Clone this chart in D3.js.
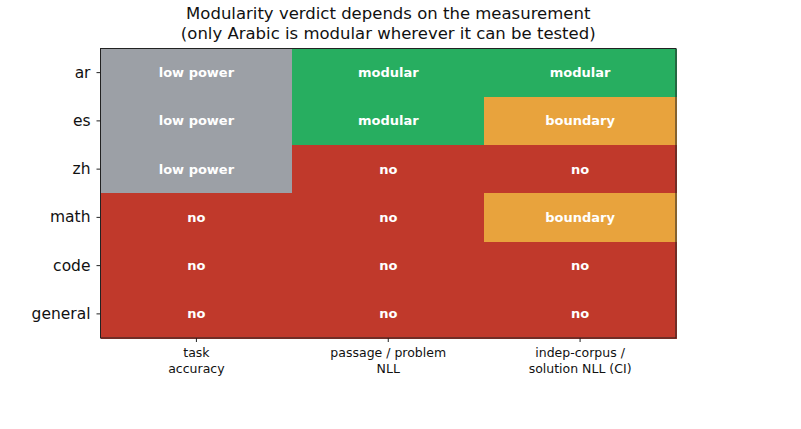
<!DOCTYPE html>
<html>
<head>
<meta charset="utf-8">
<script src="https://cdn.jsdelivr.net/npm/d3@7"></script>
<style>
  html, body { margin: 0; padding: 0; background: #fff; }
  svg { display: block; font-family: "DejaVu Sans", sans-serif; }
</style>
</head>
<body>
<svg id="chart" width="801" height="429"></svg>
<script>
const rows = ["ar", "es", "zh", "math", "code", "general"];
const columns = ["task\naccuracy", "passage / problem\nNLL", "indep-corpus /\nsolution NLL (CI)"];
const verdictTask = ["low power", "low power", "low power", "no", "no", "no"];
const verdictPassage = ["modular", "modular", "no", "no", "no", "no"];
const verdictIndep = ["modular", "boundary", "no", "boundary", "no", "no"];
const verdictKinds = ["modular", "boundary", "no", "low power"];
const verdictColors = ["#27ae60", "#e8a33d", "#c0392b", "#9ca0a6"];
const titleLines = ["Modularity verdict depends on the measurement", "(only Arabic is modular wherever it can be tested)"];

const allVerdicts = [verdictTask, verdictPassage, verdictIndep];
const cells = [];
rows.forEach((r, i) => columns.forEach((c, j) => cells.push({ row: r, col: c, v: allVerdicts[j][i] })));

const svg = d3.select("#chart");
const margin = { left: 100.5, right: 125, top: 48.5, bottom: 91 };
const W = 801, H = 429;

const x = d3.scaleBand().domain(columns).range([margin.left, W - margin.right]);
const y = d3.scaleBand().domain(rows).range([margin.top, H - margin.bottom]);
const color = d3.scaleOrdinal().domain(verdictKinds).range(verdictColors);

svg.append("g").attr("shape-rendering", "crispEdges").selectAll("rect").data(cells).join("rect")
  .attr("x", d => x(d.col)).attr("y", d => y(d.row))
  .attr("width", x.bandwidth() + 1).attr("height", y.bandwidth() + 1)
  .attr("fill", d => color(d.v));

svg.append("g").selectAll("text").data(cells).join("text")
  .attr("x", d => x(d.col) + x.bandwidth() / 2)
  .attr("y", d => y(d.row) + y.bandwidth() / 2)
  .attr("dy", "0.35em")
  .attr("text-anchor", "middle")
  .attr("font-size", 13)
  .attr("font-weight", "bold")
  .attr("fill", "#ffffff")
  .text(d => d.v);

// frame
svg.append("rect")
  .attr("x", margin.left).attr("y", margin.top)
  .attr("width", W - margin.right - margin.left).attr("height", H - margin.bottom - margin.top)
  .attr("fill", "none").attr("stroke", "#222").attr("stroke-width", 1);

// y axis
const yAxis = svg.append("g")
  .attr("transform", `translate(${margin.left},0)`)
  .call(d3.axisLeft(y).tickSize(4).tickPadding(6));
yAxis.select(".domain").remove();
yAxis.selectAll("line").attr("stroke", "#222");
yAxis.selectAll("text").attr("font-size", 15.5).attr("fill", "#111").attr("font-family", "DejaVu Sans");

// x axis
const xAxis = svg.append("g")
  .attr("transform", `translate(0,${H - margin.bottom})`)
  .call(d3.axisBottom(x).tickSize(4).tickPadding(6));
xAxis.select(".domain").remove();
xAxis.selectAll("line").attr("stroke", "#222");
xAxis.selectAll("text").each(function(d) {
  const t = d3.select(this);
  t.text(null).attr("font-size", 12.5).attr("fill", "#111").attr("font-family", "DejaVu Sans");
  d.split("\n").forEach((line, k) => {
    t.append("tspan").attr("x", 0).attr("dy", k === 0 ? "0.71em" : "1.25em").text(line);
  });
});

// title
svg.append("g").selectAll("text").data(titleLines).join("text")
  .attr("x", (margin.left + W - margin.right) / 2)
  .attr("y", (d, i) => 19 + i * 20)
  .attr("text-anchor", "middle")
  .attr("font-size", 16.5)
  .attr("fill", "#111")
  .text(d => d);
</script>
</body>
</html>
